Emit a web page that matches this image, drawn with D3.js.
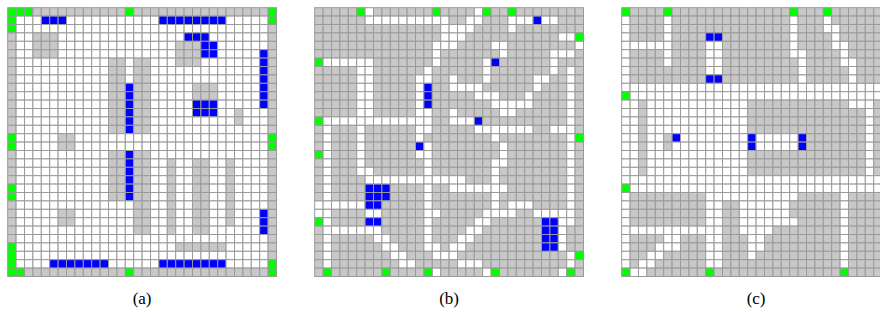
<!DOCTYPE html>
<html>
<head>
<meta charset="utf-8">
<script src="https://cdn.jsdelivr.net/npm/d3@7"></script>
<style>
  body { margin: 0; background: #fff; }
  svg { display: block; }
</style>
</head>
<body>
<div id="chart"></div>
<script>
// cell codes: . free, # obstacle, B blue, G green
const panelLabels = ["(a)", "(b)", "(c)"];

const gridA = [
  "GGG###########G################G",
  "G...BBB...........BBBBBBBB.....G",
  "G..............................#",
  "#..###...............BBB.......#",
  "#..###..............###BB......#",
  "#..###..............###BB.....B#",
  "#...........##.##...###.......B#",
  "#...........##.##.............B#",
  "#...........##.##.............B#",
  "#...........##B##.....###.....B#",
  "#...........##B##.....###.....B#",
  "#...........##B##.....BBB.....B#",
  "#...........##B##.....BBB..#...#",
  "#...........##B##..........#...#",
  "#...........##B##..............#",
  "G.....##.......................G",
  "G.....##.......................G",
  "#...........##B##..............#",
  "#...........##B##..#..##..#....#",
  "#...........##B##..#..##..#....#",
  "#...........##B##..#..##..#....#",
  "G...........##B##..#..##..#....#",
  "G...........##B##..#..##..#....#",
  "#..............##..#..##..#....#",
  "#.....##.......##..#..##..#...B#",
  "#.....##.......##..#..##..#...B#",
  "#..............##..#..##......B#",
  "#..............................#",
  "G...................######.....#",
  "G..............................#",
  "G....BBBBBBB......BBBBBBBB.....G",
  "GG############G################G"
];

const gridB = [
  "#####G.#######G####.G##G########",
  "######..........##..###...B..###",
  "###############....####.########",
  "###############...###########..G",
  "##############...####..########.",
  "##############.#######.#####...#",
  "G......#######.#####.B######.###",
  "#####..######.######.#######.#.#",
  "#####..#####..##.###.#####..##.#",
  "#####..#####.B##....######.###.#",
  "#####..#####.B#####...###.####.#",
  "#####..#####.B#######.....####.#",
  "#####..#####..##.#####..######.#",
  "G.............##...B##########.#",
  "#.###.######..#####.......##...#",
  "#.###.######.########.########.G",
  "#.###.######B.########.#######.#",
  "G.###.######..########.#######.#",
  "#.###.#######.#######..#######.#",
  "#.###..######.#######.########.#",
  "#.####............###.########.#",
  "#.####BBB####.##.......#######.#",
  "#.####BBB####.#######.########.#",
  "......BB#####.#######.#...####.#",
  "..####..#####..#####....##.....#",
  "G.####BB#####.#####..######BB..#",
  "#.......#####.####..#######BB.##",
  "#.#####..####.###..########BB.##",
  "#.######..###..#..#########BB.##",
  "#.#######..###...#############.G",
  "#.########..#####...##########.#",
  "#G######G####G.#####.G#######.G#"
];

const gridC = [
  "G####G##############G###G#######",
  ".####.##############.###.#######",
  ".####.##############.###..######",
  ".####.####BB########.####.######",
  "......####..########.####..#####",
  ".####.####..########..####.#####",
  ".####.####..#########.####..####",
  ".#########..#########.#####.####",
  ".#########BB#########.#####.####",
  "................................",
  "G...............................",
  "..#............############...##",
  "..#............##############.##",
  "..#............##############.##",
  "..#............##############.##",
  "..#..#B........B.....B#######.##",
  "..#..#.........B.....B#######.##",
  "..#............##############.##",
  "..#............##############.##",
  "..#............##############.##",
  "................................",
  "G...............................",
  ".#########...........#####.#####",
  ".#########..##......######.#####",
  ".#########..##......######.#####",
  ".#########..##.......#####.#####",
  "............##....########.#####",
  ".####..###..###..#########.#####",
  ".###...###..###..#########.#####",
  ".##..#####..###.##########.#####",
  ".#..######..##############.#####",
  "G..#######G###############G#####"
];

const grids = [gridA, gridB, gridC];
const nCells = 32;
const cell = 8.4;
const panelX = [7.7, 314.7, 621.7];
const gridTop = 7.7;

const fillOf = {
  ".": "#ffffff",
  "#": "#c8c8c8",
  "B": "#0000ff",
  "G": "#00ff00"
};

const width = 880, height = 313;

const svg = d3.select("#chart").append("svg")
  .attr("width", width)
  .attr("height", height);

grids.forEach((grid, p) => {
  const x = d3.scaleBand()
    .domain(d3.range(nCells))
    .range([panelX[p], panelX[p] + cell * nCells]);
  const y = d3.scaleBand()
    .domain(d3.range(nCells))
    .range([gridTop, gridTop + cell * nCells]);

  const cells = [];
  grid.forEach((row, r) => {
    for (let c = 0; c < nCells; c++) {
      cells.push({ r: r, c: c, v: row[c] || "." });
    }
  });

  const g = svg.append("g");

  g.selectAll("rect")
    .data(cells)
    .join("rect")
    .attr("x", d => x(d.c))
    .attr("y", d => y(d.r))
    .attr("width", x.bandwidth())
    .attr("height", y.bandwidth())
    .attr("fill", d => fillOf[d.v] || "#ffffff")
    .attr("stroke", "#9a9a9a")
    .attr("stroke-width", 1);

  svg.append("text")
    .attr("x", panelX[p] + cell * nCells / 2)
    .attr("y", 304)
    .attr("text-anchor", "middle")
    .attr("font-family", "'Liberation Serif', 'DejaVu Serif', serif")
    .attr("font-size", 17)
    .attr("fill", "#000")
    .text(panelLabels[p]);
});
</script>
</body>
</html>
